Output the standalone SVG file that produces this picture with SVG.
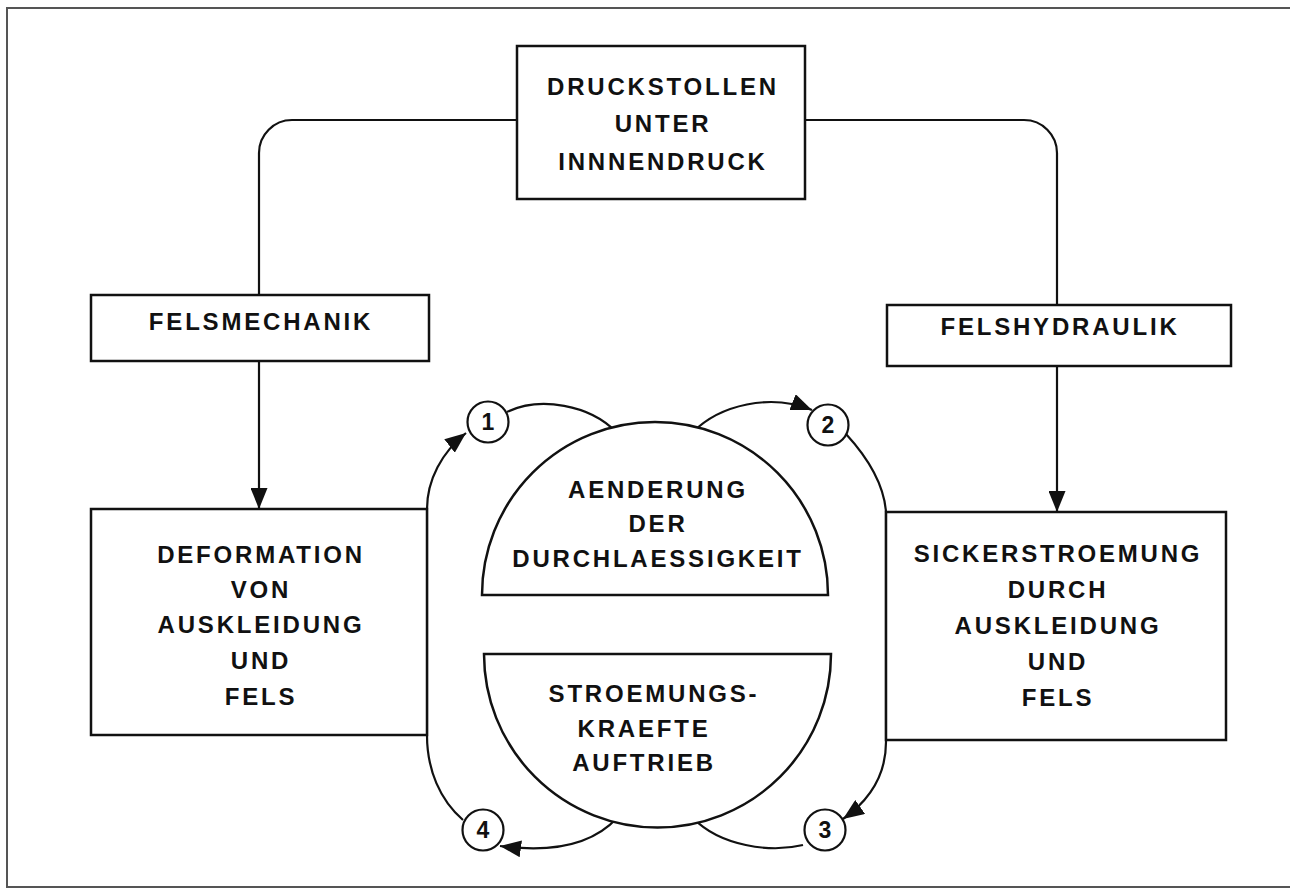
<svg xmlns="http://www.w3.org/2000/svg" width="1290" height="888" viewBox="0 0 1290 888">
<style>
.box{fill:#fff;stroke:#111;stroke-width:2.5}
.ln{fill:none;stroke:#111;stroke-width:2.2}
.t{font-family:"Liberation Sans",Arial,sans-serif;font-weight:bold;font-size:24px;fill:#111;text-anchor:middle;letter-spacing:2.8px}
.n{font-family:"Liberation Sans",Arial,sans-serif;font-weight:bold;font-size:23px;fill:#111;text-anchor:middle}
.c{fill:#fff;stroke:#111;stroke-width:2.2}
</style>
<defs>
<marker id="ah" viewBox="0 0 21 17" refX="21" refY="8.5" markerWidth="21" markerHeight="17" markerUnits="userSpaceOnUse" orient="auto">
<path d="M0,0 L21,8.5 L0,17 Z" fill="#111"/>
</marker>
</defs>
<rect width="1290" height="888" fill="#fff"/>
<path d="M1290 8 L7 8 L7 887 L1290 887" fill="none" stroke="#555" stroke-width="2"/>

<g id="connectors">
<path class="ln" d="M517 120 L292 120 A33 33 0 0 0 259 153 L259 295"/>
<path class="ln" d="M805 120 L1024 120 A33 33 0 0 1 1057 153 L1057 305"/>
<path class="ln" d="M259 361 L259 509" marker-end="url(#ah)"/>
<path class="ln" d="M1057 366 L1057 512" marker-end="url(#ah)"/>
<path class="ln" d="M507 412 C540 396 590 405 616 432"/>
<path class="ln" d="M693 432 C720 405 770 393 812 410" marker-end="url(#ah)"/>
<path class="ln" d="M846 434 C868 458 884 485 886 512 L886 742 C886 775 870 800 843 819" marker-end="url(#ah)"/>
<path class="ln" d="M803 845 C770 853 720 846 693 818"/>
<path class="ln" d="M617 818 C592 845 552 853 500 846" marker-end="url(#ah)"/>
<path class="ln" d="M463 820 C440 800 427 770 427 735 L427 509 C427 480 442 452 466 433" marker-end="url(#ah)"/>
</g>

<g id="n-druckstollen">
<rect class="box" x="517" y="46" width="288" height="153"/>
<text class="t" x="663" y="95">DRUCKSTOLLEN</text>
<text class="t" x="663" y="132">UNTER</text>
<text class="t" x="663" y="170">INNNENDRUCK</text>
</g>

<g id="n-felsmechanik">
<rect class="box" x="91" y="295" width="338" height="66"/>
<text class="t" x="261" y="330">FELSMECHANIK</text>
</g>

<g id="n-felshydraulik">
<rect class="box" x="887" y="305" width="344" height="61"/>
<text class="t" x="1060" y="335">FELSHYDRAULIK</text>
</g>

<g id="n-deformation">
<rect class="box" x="91" y="509" width="336" height="226"/>
<text class="t" x="261" y="563">DEFORMATION</text>
<text class="t" x="261" y="598">VON</text>
<text class="t" x="261" y="633">AUSKLEIDUNG</text>
<text class="t" x="261" y="669">UND</text>
<text class="t" x="261" y="705">FELS</text>
</g>

<g id="n-sickerstroemung">
<rect class="box" x="886" y="512" width="340" height="228"/>
<text class="t" x="1058" y="562">SICKERSTROEMUNG</text>
<text class="t" x="1058" y="598">DURCH</text>
<text class="t" x="1058" y="634">AUSKLEIDUNG</text>
<text class="t" x="1058" y="670">UND</text>
<text class="t" x="1058" y="706">FELS</text>
</g>

<g id="n-aenderung">
<path class="box" d="M482 595 A173 173 0 0 1 828 595 Z"/>
<text class="t" x="658" y="498">AENDERUNG</text>
<text class="t" x="658" y="532">DER</text>
<text class="t" x="658" y="567">DURCHLAESSIGKEIT</text>
</g>

<g id="n-stroemung">
<path class="box" d="M484 654 A173 173 0 0 0 831 654 Z"/>
<text class="t" x="654" y="702">STROEMUNGS-</text>
<text class="t" x="644" y="737">KRAEFTE</text>
<text class="t" x="644" y="771">AUFTRIEB</text>
</g>

<g id="n-1"><circle class="c" cx="488" cy="422" r="20.5"/><text class="n" x="488" y="430">1</text></g>
<g id="n-2"><circle class="c" cx="828" cy="425" r="20.5"/><text class="n" x="828" y="433">2</text></g>
<g id="n-3"><circle class="c" cx="825" cy="830" r="20.5"/><text class="n" x="825" y="838">3</text></g>
<g id="n-4"><circle class="c" cx="483" cy="830" r="20.5"/><text class="n" x="483" y="838">4</text></g>
</svg>
